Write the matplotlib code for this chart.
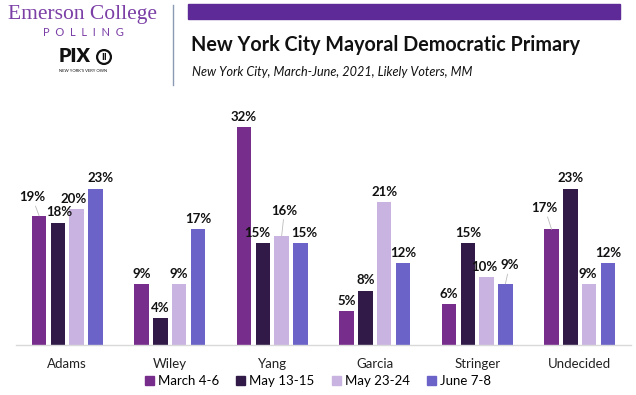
import matplotlib
matplotlib.use("Agg")
import matplotlib.pyplot as plt
import numpy as np
from matplotlib.patches import Rectangle
from matplotlib.lines import Line2D

categories = ["Adams", "Wiley", "Yang", "Garcia", "Stringer", "Undecided"]
series_names = ["March 4-6", "May 13-15", "May 23-24", "June 7-8"]
march = [19, 9, 32, 5, 6, 17]
may13 = [18, 4, 15, 8, 15, 23]
may23 = [20, 9, 16, 21, 10, 9]
june = [23, 17, 15, 12, 9, 12]
series = [march, may13, may23, june]
colors = ["#772D8B", "#321A48", "#C9B3E1", "#6B63C7"]

FONT = ["Lato", "DejaVu Sans"]
plt.rcParams['font.family'] = FONT

fig = plt.figure(figsize=(6.36, 3.95), dpi=100)
ax = fig.add_axes([16/636, 50/395, 615/636, 238/395])

x = np.arange(len(categories))
bw = 0.142
step = 0.183
# label nudges (dx, dy) in points for crowded labels; leader line when raised
nudge = {(0, 0): (-5, 9), (1, 0): (1, 3), (2, 0): (-2, 3), (3, 0): (4, 3),
         (1, 2): (-4, 3), (2, 2): (2, 14), (3, 2): (3, 3),
         (2, 4): (-2, 3), (3, 4): (3, 9),
         (0, 5): (-5, 11), (2, 5): (-1, 3)}
for i, (vals, c) in enumerate(zip(series, colors)):
    pos = x + (i - 1.5) * step
    ax.bar(pos, vals, width=bw, color=c, label=series_names[i], zorder=2)
    for j, (p, v) in enumerate(zip(pos, vals)):
        dx, dy = nudge.get((i, j), (0, 3))
        if dy > 6:
            ax.annotate(f"{v}%", (p, v), xytext=(dx, dy), textcoords="offset points",
                        ha="center", va="bottom", fontsize=9.5, fontweight="bold",
                        color="#111111",
                        arrowprops=dict(arrowstyle="-", color="#BBBBBB", lw=0.6,
                                        shrinkA=0, shrinkB=0))
        else:
            ax.annotate(f"{v}%", (p, v), xytext=(dx, dy), textcoords="offset points",
                        ha="center", va="bottom", fontsize=9.5, fontweight="bold",
                        color="#111111")

ax.set_xlim(-0.5, len(categories) - 0.5)
ax.set_ylim(0, 35)
ax.set_yticks([])
ax.set_xticks(x)
ax.set_xticklabels(categories, fontsize=9.5, color="#222222")
ax.tick_params(axis="x", length=0, pad=9)
for s in ["top", "right", "left"]:
    ax.spines[s].set_visible(False)
ax.spines["bottom"].set_color("#D9D9D9")
ax.spines["bottom"].set_linewidth(1)

handles = [Rectangle((0, 0), 1, 1, color=c) for c in colors]
fig.legend(handles, series_names, loc="center", bbox_to_anchor=(0.5, 1 - 381/395),
           ncol=4, frameon=False, fontsize=9.5, handlelength=0.7, handleheight=0.7,
           handletextpad=0.3, columnspacing=1.3)

# header
fig.patches.append(Rectangle((188/636, 1 - 19/395), (620-188)/636, 15/395,
                             transform=fig.transFigure, color="#5E2A98", zorder=1))
fig.add_artist(Line2D([173/636, 173/636], [1 - 85/395, 1 - 5/395],
                      transform=fig.transFigure, color="#8A9AB5", lw=1))
fig.text(191/636, 1 - 45/395, "New York City Mayoral Democratic Primary",
         fontsize=14.2, fontweight="bold", va="center", ha="left", color="#111111")
fig.text(192/636, 1 - 72/395, "New York City, March-June, 2021, Likely Voters, MM",
         fontsize=9.1, style="italic", va="center", ha="left", color="#111111")

# logo
fig.text(83/636, 1 - 15/395, "Emerson College", family=["Liberation Serif", "DejaVu Serif"],
         fontsize=15.5, color="#7B3FA6", ha="center", va="center")
fig.text(83/636, 1 - 33/395, "P  O  L  L  I  N  G", fontsize=8, color="#7B3FA6",
         ha="center", va="center")
fig.text(75/636, 1 - 57/395, "PIX", fontsize=14, fontweight="heavy", color="#111111",
         ha="center", va="center")
fig.text(104/636, 1 - 57/395, "II", fontsize=7, fontweight="bold", color="#111111",
         ha="center", va="center",
         bbox=dict(boxstyle="circle,pad=0.25", fc="white", ec="#111111", lw=1.6))
fig.text(83/636, 1 - 71/395, "NEW YORK'S VERY OWN", fontsize=3, color="#111111",
         ha="center", va="center")

fig.savefig("out.png", dpi=100)
